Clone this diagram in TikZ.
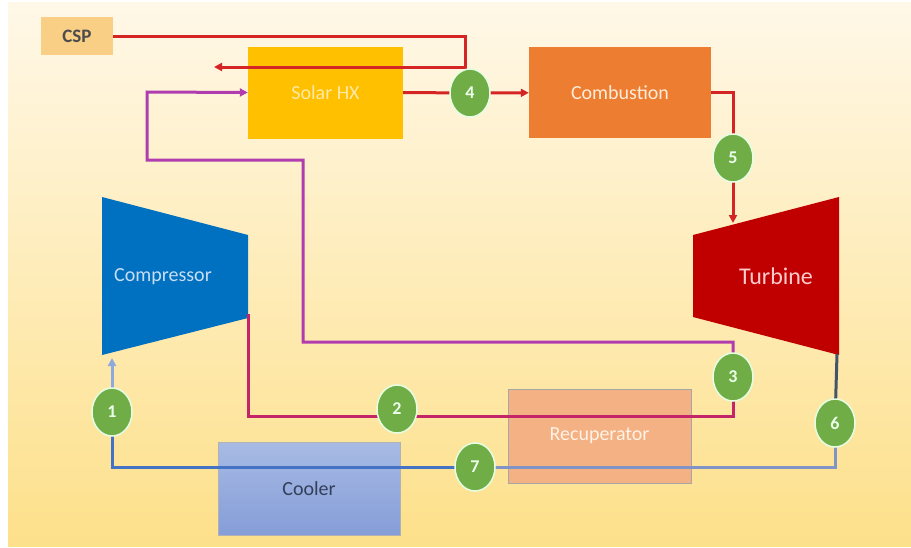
\documentclass[tikz,border=0pt]{standalone}
\usepackage{fontspec}
\setmainfont{Carlito}
\usetikzlibrary{shapes.geometric,arrows.meta}

\definecolor{bgtop}{HTML}{FFF8E8}
\definecolor{bgbot}{HTML}{FDE08A}
\definecolor{cspfill}{HTML}{F9CF86}
\definecolor{hxfill}{HTML}{FFC000}
\definecolor{hxtext}{HTML}{FFE9A6}
\definecolor{combfill}{HTML}{ED7D31}
\definecolor{turbfill}{HTML}{C00000}
\definecolor{compfill}{HTML}{0070C0}
\definecolor{comptext}{HTML}{C8DEF2}
\definecolor{recfill}{HTML}{F4B183}
\definecolor{cooltop}{HTML}{A8BBE4}
\definecolor{coolbot}{HTML}{859DD8}
\definecolor{cooltext}{HTML}{34405A}
\definecolor{ptgreen}{HTML}{70AD47}
\definecolor{hotline}{HTML}{D42424}
\definecolor{lowline}{HTML}{C42468}
\definecolor{highline}{HTML}{B03CB0}
\definecolor{coldline}{HTML}{4472C4}
\definecolor{paleline}{HTML}{8FA9DC}
\definecolor{darkline}{HTML}{44546A}
\definecolor{midline}{HTML}{8094C8}

\begin{document}
\begin{tikzpicture}[x=1pt,y=-1pt,
    unit/.style={inner sep=0pt, font=\fontsize{20}{24}\selectfont},
    point/.style={ellipse, fill=ptgreen, draw=green!10, line width=1.5pt,
      minimum width=40pt, minimum height=48pt, inner sep=0pt,
      text=green!8, font=\fontsize{18}{20}\selectfont\bfseries},
    pipe/.style={line width=3pt},
    tip/.style={-{Triangle[length=8pt,width=8pt]}}]

    \useasboundingbox (0,0) rectangle (911,547);
    \shade[top color=bgtop, bottom color=bgbot] (8,2) rectangle (911,546);

    % boxes
    \node[unit, fill=cspfill, minimum width=72pt, minimum height=38pt,
      text=black!70, font=\fontsize{19}{22}\selectfont\bfseries] (csp) at (77,36) {CSP};
    \node[unit, fill=hxfill, minimum width=155pt, minimum height=92pt,
      text=hxtext] (hx) at (325.5,92.5) {Solar HX};
    \node[unit, fill=combfill, minimum width=182pt, minimum height=91pt,
      text=orange!15] (comb) at (620,92.5) {Combustion};
    \node[unit, fill=recfill, draw=black!35, line width=0.8pt, minimum width=183pt,
      minimum height=94pt, text=orange!10] (rec) at (599.5,436) {Recuperator};
    \node[unit, top color=cooltop, bottom color=coolbot,
      draw=black!30, line width=0.8pt, minimum width=182pt, minimum height=93pt,
      text=cooltext] (cool) at (309,488.5) {Cooler};

    % machines
    \fill[compfill] (102,197) -- (248,235) -- (248,318) -- (102,355) -- cycle;
    \node[unit, text=comptext] (comp) at (163,277) {Compressor};
    \fill[turbfill] (693,235) -- (839,197) -- (839,355) -- (693,317) -- cycle;
    \node[unit, text=red!20, font=\fontsize{24}{28}\selectfont] (turb) at (776,276) {Turbine};

    \coordinate (cmpout) at (248,314);
    \coordinate (cmpin) at (112,358);
    \coordinate (tbin) at (733,223);
    \coordinate (tbout) at (837,354);
    \coordinate (hxret) at (214,67);

    \foreach \p/\x/\y in {1/112/412, 2/397/409, 3/733/377, 4/470/93,
                          5/733/158, 6/835/423, 7/475/467}
        \coordinate (p\p) at (\x,\y);

    % flows
    \draw[pipe, hotline, tip] (csp.east) -- (465,36) -- (465,67) -- (hxret);
    \draw[pipe, hotline] (hx.east) -- (p4);
    \draw[pipe, hotline, tip] (p4) -- (comb);
    \draw[pipe, hotline] (comb.east) -| (p5);
    \draw[pipe, hotline, tip] (p5) -- (tbin);
    \draw[pipe, lowline] (cmpout) -- (248,416) -- (733,416) -- (p3);
    \draw[pipe, highline, tip] (p3) -- (733,342) -- (303,342) -- (303,160)
      -- (147,160) -- (147,92) -- (hx.west);
    \draw[pipe, darkline] (tbout) -- (p6);
    \draw[pipe, midline] (p6) |- (p7);
    \draw[pipe, coldline] (p7) -- (112,467) -- (p1);
    \draw[pipe, paleline, tip] (p1) -- (cmpin);

    % state points
    \foreach \p in {1,...,7}
    {
        \node[point] (n\p) at (p\p) {\p};
    }
\end{tikzpicture}
\end{document}
